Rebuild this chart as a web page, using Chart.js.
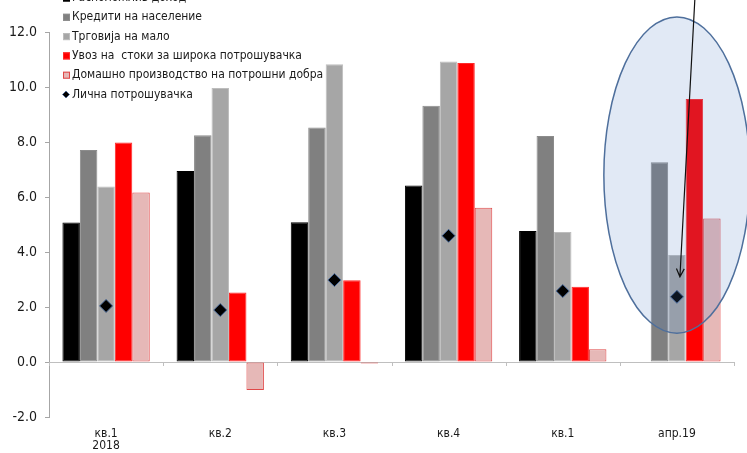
<!DOCTYPE html>
<html>
<head>
<meta charset="utf-8">
<script src="https://cdn.jsdelivr.net/npm/chart.js@4/dist/chart.umd.min.js"></script>
<style>
  html, body { margin: 0; padding: 0; background: #fff; }
  #wrap { width: 747px; height: 453px; position: relative; }
</style>
</head>
<body>
<div id="wrap"><canvas id="consChart"></canvas></div>
<script>
// ---------- data ----------
const categories = [["кв.1", "2018"], "кв.2", "кв.3", "кв.4", "кв.1", "апр.19"];

const disposableIncome = [5.07, 6.95, 5.08, 6.42, 4.76, null];
const householdCredit  = [7.71, 8.25, 8.53, 9.32, 8.22, 7.26];
const retailTrade      = [6.38, 9.96, 10.83, 10.93, 4.73, 3.89];
const consumerImports  = [7.98, 2.53, 2.97, 10.87, 2.74, 9.56];
const domesticProd     = [6.16, -1.02, -0.05, 5.61, 0.46, 5.22];
const privateConsump   = [2.04, 1.89, 2.98, 4.59, 2.58, 2.37];

const yTicks = [-2, 0, 2, 4, 6, 8, 10, 12];

const FONT = "'DejaVu Sans Condensed', 'DejaVu Sans', sans-serif";

// highlight round the last month
const HL_INDEX = 5;
const HL_CENTER = 6.8;     // value at ellipse center
const HL_HALF = 5.75;      // half height, in value units
const HL_WIDTH = 0.64;     // half width, in category widths
const ARROW_TIP = 3.1;

// ---------- plugins ----------
const zeroTicks = {
  id: "zeroTicks",
  beforeDatasetsDraw(chart) {
    const { ctx, scales: { x, y } } = chart;
    const y0 = y.getPixelForValue(0);
    const step = x.getPixelForValue(1) - x.getPixelForValue(0);
    ctx.save();
    ctx.strokeStyle = "#bfbfbf";
    ctx.lineWidth = 1;
    ctx.beginPath();
    for (let i = 0; i <= categories.length; i++) {
      const px = Math.round(x.getPixelForValue(0) - step / 2 + i * step) + 0.5;
      ctx.moveTo(px, y0);
      ctx.lineTo(px, y0 + 4);
    }
    ctx.stroke();
    ctx.restore();
  }
};

const highlight = {
  id: "highlight",
  afterDatasetsDraw(chart) {
    const { ctx, scales: { x, y } } = chart;
    const step = x.getPixelForValue(1) - x.getPixelForValue(0);
    const cx = x.getPixelForValue(HL_INDEX);
    const cy = y.getPixelForValue(HL_CENTER);
    const ry = y.getPixelForValue(0) - y.getPixelForValue(HL_HALF);
    const rx = step * HL_WIDTH;
    ctx.save();
    ctx.beginPath();
    ctx.ellipse(cx, cy, rx, ry, 0, 0, Math.PI * 2);
    ctx.fillStyle = "rgba(79,123,194,0.17)";
    ctx.fill();
    ctx.strokeStyle = "#4e6f9c";
    ctx.lineWidth = 1.5;
    ctx.stroke();
    ctx.restore();
  },
  afterDraw(chart) {
    const { ctx, scales: { x, y } } = chart;
    const cx = x.getPixelForValue(HL_INDEX);
    const tx = cx + 3, ty = y.getPixelForValue(ARROW_TIP);
    const sx = cx + 18, sy = -2;
    const ang = Math.atan2(ty - sy, tx - sx);
    ctx.save();
    ctx.strokeStyle = "#111";
    ctx.lineWidth = 1.2;
    ctx.beginPath();
    ctx.moveTo(sx, sy);
    ctx.lineTo(tx, ty);
    ctx.moveTo(tx - 9 * Math.cos(ang - 0.45), ty - 9 * Math.sin(ang - 0.45));
    ctx.lineTo(tx, ty);
    ctx.lineTo(tx - 9 * Math.cos(ang + 0.45), ty - 9 * Math.sin(ang + 0.45));
    ctx.stroke();
    ctx.restore();
  }
};

// legend drawn inside the plot, top left
const innerLegend = {
  id: "innerLegend",
  afterDraw(chart) {
    const { ctx } = chart;
    const x0 = 63, y0 = -2, gap = 19.3;
    ctx.save();
    ctx.font = "12px " + FONT;
    ctx.textBaseline = "middle";
    chart.data.datasets.forEach((ds, i) => {
      const yy = y0 + i * gap;
      if (ds.type === "line") {
        ctx.beginPath();
        ctx.moveTo(x0 + 3, yy - 3.5);
        ctx.lineTo(x0 + 6.5, yy);
        ctx.lineTo(x0 + 3, yy + 3.5);
        ctx.lineTo(x0 - 0.5, yy);
        ctx.closePath();
        ctx.fillStyle = ds.pointBackgroundColor;
        ctx.fill();
        ctx.strokeStyle = ds.pointBorderColor;
        ctx.lineWidth = 0.8;
        ctx.stroke();
      } else {
        ctx.fillStyle = ds.backgroundColor;
        ctx.fillRect(x0, yy - 3.5, 7, 7);
        ctx.strokeStyle = ds.borderColor;
        ctx.lineWidth = 1;
        ctx.strokeRect(x0 + 0.5, yy - 3, 6, 6);
      }
      ctx.fillStyle = "#1a1a1a";
      ctx.fillText(ds.label, x0 + 9, yy);
    });
    ctx.restore();
  }
};

// ---------- chart ----------
const barBase = { type: "bar", borderWidth: 1, borderSkipped: false };

new Chart(document.getElementById("consChart"), {
  type: "bar",
  data: {
    labels: categories,
    datasets: [
      { ...barBase, label: "Расположлив доход", data: disposableIncome,
        backgroundColor: "#000000", borderColor: "#000000" },
      { ...barBase, label: "Кредити на население", data: householdCredit,
        backgroundColor: "#808080", borderColor: "#8c8c8c" },
      { ...barBase, label: "Трговија на мало", data: retailTrade,
        backgroundColor: "#a6a6a6", borderColor: "#bdbdbd" },
      { ...barBase, label: "Увоз на  стоки за широка потрошувачка", data: consumerImports,
        backgroundColor: "#ff0000", borderColor: "#ff2a2a" },
      { ...barBase, label: "Домашно производство на потрошни добра", data: domesticProd,
        backgroundColor: "#e6b8b7", borderColor: "#e04848" },
      { type: "line", label: "Лична потрошувачка", data: privateConsump, order: -1,
        showLine: false, pointStyle: "rectRot", pointRadius: 6.5, pointHoverRadius: 6.5,
        pointBackgroundColor: "#000000", pointBorderColor: "#4a6a9a", pointBorderWidth: 1 }
    ]
  },
  options: {
    responsive: true,
    maintainAspectRatio: false,
    animation: false,
    devicePixelRatio: 1,
    layout: { padding: { top: 32, right: 13, left: 0, bottom: 0 } },
    datasets: { bar: { categoryPercentage: 0.765, barPercentage: 1.0 } },
    plugins: { legend: { display: false }, tooltip: { enabled: false } },
    scales: {
      x: {
        offset: true,
        grid: { display: false, drawTicks: false },
        border: { display: false },
        ticks: { color: "#1a1a1a", padding: 11, maxRotation: 0,
                 font: { family: FONT, size: 12, lineHeight: 1.0 } },
        afterFit: s => { s.height = 36; }
      },
      y: {
        min: -2, max: 12,
        afterBuildTicks: s => { s.ticks = yTicks.map(v => ({ value: v })); },
        grid: {
          color: c => (c.tick && c.tick.value === 0 ? "#bfbfbf" : "rgba(0,0,0,0)"),
          tickColor: "#a6a6a6",
          tickLength: 4
        },
        border: { color: "#a6a6a6" },
        ticks: {
          color: "#1a1a1a", padding: 8,
          font: { family: FONT, size: 14 },
          callback: v => Number(v).toFixed(1)
        },
        afterFit: s => { s.width = 49; }
      }
    }
  },
  plugins: [zeroTicks, highlight, innerLegend]
});
</script>
</body>
</html>
